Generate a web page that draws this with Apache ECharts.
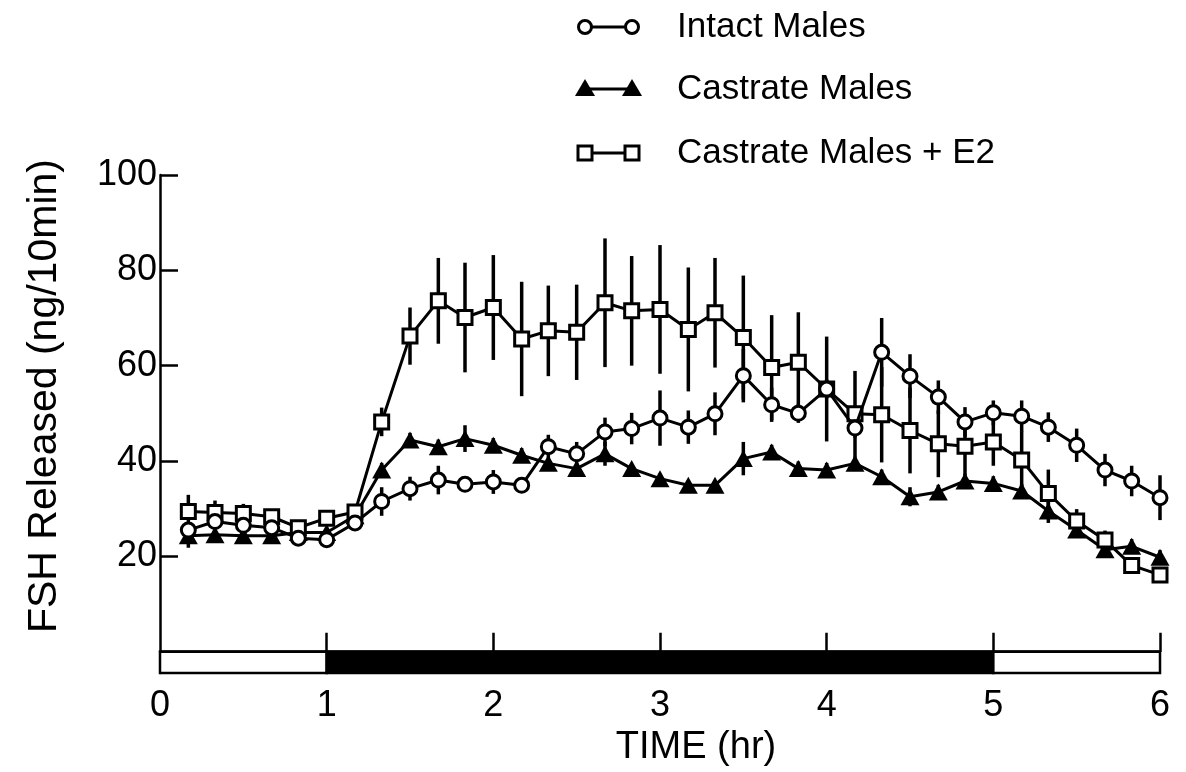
<!DOCTYPE html>
<html>
<head>
<meta charset="utf-8">
<script src="https://cdn.jsdelivr.net/npm/echarts@6/dist/echarts.min.js"></script>
<style>
html,body{margin:0;padding:0;background:#fff;}
#chart{width:1186px;height:772px;}
</style>
</head>
<body>
<div id="chart"></div>
<script>
// ---- data ----
const times = [0.17,0.33,0.5,0.67,0.83,1.0,1.17,1.33,1.5,1.67,1.83,2.0,2.17,2.33,2.5,2.67,2.83,3.0,3.17,3.33,3.5,3.67,3.83,4.0,4.17,4.33,4.5,4.67,4.83,5.0,5.17,5.33,5.5,5.67,5.83,6.0];
const intactMales = [25.5,27.3,26.5,26,23.8,23.5,27,31.5,34.2,36,35.1,35.6,34.9,43,41.5,46.1,46.8,49,47.1,49.9,57.9,51.8,50,55.1,46.9,62.8,57.8,53.4,48.2,50.1,49.4,47.1,43.3,38.1,35.8,32.3];
const intactErr = [1,1,1,1,1,1,1.5,3,2.5,3,1,2.5,1,2.5,2.5,3,3.3,5.8,3.5,4.5,5.6,3.6,2,2,2,7.2,4.6,3.5,3.1,2.6,3.3,3.1,3.5,3.4,3.2,4.7];
const castrateMales = [24.3,24.5,24.3,24.3,25,25,28.5,38.1,44.4,43,44.7,43.3,41.2,39.5,38.4,41.5,38.4,36.3,34.9,34.9,40.5,41.9,38.4,38.1,39.5,36.7,32.5,33.5,35.8,35.3,33.7,29.5,25.5,21.4,22.1,19.8];
const castrateErr = [2.5,1,1,1,1,1,1,1.5,1.5,1.5,2.8,1.5,1.5,1,1,2.5,1,1,1,1,3.5,1.5,1.5,1.5,1.5,1.5,2,1.5,1.5,1.5,1.5,2.5,1.5,1,1.5,1.5];
const castrateE2 = [29.4,29.2,29,28.3,26,28,29.3,48.2,66.2,73.6,70.1,72.2,65.6,67.3,67,73.2,71.5,71.8,67.6,71.1,65.9,59.6,60.7,55.1,49.9,49.7,46.4,43.6,43.1,44,40.2,33.2,27.4,23.4,18.1,16.1];
const castrateE2Err = [3.5,2.5,2,1.5,1,1,1.5,3,6,9,11.5,11,12,9.5,10,13.5,11.5,13.5,13,11.5,13,11,10.5,11,9,10,9,7,6,5,6,5,2.5,2,1,1];
const seriesNames = ['Intact Males','Castrate Males','Castrate Males + E2'];
const yTickValues = [20,40,60,80,100];
const xTickValues = [1,2,3,4,5,6];
const xLabelValues = [0,1,2,3,4,5,6];
// light/dark bar segments (hours)
const phaseStart = [0,1,5];
const phaseEnd = [1,5,6];
const phaseDark = [false,true,false];

const FONT = '"Liberation Sans", Arial, sans-serif';
const BAR_TOP = 0, BAR_BOTTOM = -4.5;

function pts(vals){ return times.map((t,i)=>[t, vals[i]]); }
function errs(vals, e){ return times.map((t,i)=>[t, vals[i], e[i]]); }

function errRender(params, api){
  const x = api.value(0), v = api.value(1), e = api.value(2);
  const p1 = api.coord([x, v - e]), p2 = api.coord([x, v + e]);
  return {type:'line', shape:{x1:p1[0], y1:p1[1], x2:p2[0], y2:p2[1]},
          style:{stroke:'#000', lineWidth:3.5}};
}
function errSeries(vals, e){
  return {type:'custom', renderItem: errRender, data: errs(vals, e),
          encode:{x:0, y:[1]}, z:1, silent:true, clip:false};
}
const lineStyle = {color:'#000', width:3};

const phaseData = phaseStart.map((s,i)=>[s, phaseEnd[i], phaseDark[i] ? 1 : 0]);

const chart = echarts.init(document.getElementById('chart'), null, {renderer:'canvas'});

// legend built as graphic (marker—marker + text)
function legendRow(y, kind, label){
  const xa = 585, xb = 632;
  const els = [{type:'line', shape:{x1:xa, y1:y, x2:xb, y2:y}, style:{stroke:'#000', lineWidth:2.8}}];
  [xa, xb].forEach(x=>{
    if(kind==='circle') els.push({type:'circle', shape:{cx:x, cy:y, r:6.5}, style:{fill:'#fff', stroke:'#000', lineWidth:3}});
    if(kind==='triangle') els.push({type:'polygon', shape:{points:[[x,y-10],[x-10,y+7],[x+10,y+7]]}, style:{fill:'#000'}});
    if(kind==='rect') els.push({type:'rect', shape:{x:x-7, y:y-7, width:14, height:14}, style:{fill:'#fff', stroke:'#000', lineWidth:3}});
  });
  els.push({type:'text', x:677, y:y, style:{text:label, font:'35px ' + FONT, fill:'#000', textVerticalAlign:'middle', verticalAlign:'middle'}});
  return els;
}

const option = {
  animation:false,
  backgroundColor:'#fff',
  grid:{left:160, right:26, top:175, bottom:97, containLabel:false},
  xAxis:{
    type:'value', min:0, max:6, interval:1,
    name:'TIME (hr)', nameLocation:'middle', nameGap:54,
    nameTextStyle:{fontFamily:FONT, fontSize:38, color:'#000', padding:[0,0,0,72]},
    axisLine:{show:true, onZero:true, lineStyle:{color:'#000', width:2.5}},
    axisTick:{show:true, inside:true, length:19, customValues:xTickValues, lineStyle:{color:'#000', width:2.5}},
    axisLabel:{customValues:xLabelValues, margin:15, fontFamily:FONT, fontSize:36, color:'#000'},
    splitLine:{show:false}
  },
  yAxis:{
    type:'value', min:BAR_BOTTOM, max:100,
    name:'FSH Released (ng/10min)', nameLocation:'middle', nameRotate:90, nameGap:95,
    nameTextStyle:{fontFamily:FONT, fontSize:41, color:'#000', padding:[0,0,0,56]},
    axisLine:{show:true, lineStyle:{color:'#000', width:2.5}},
    axisTick:{show:true, inside:true, length:18, customValues:yTickValues, lineStyle:{color:'#000', width:2.5}},
    axisLabel:{customValues:yTickValues, margin:3, fontFamily:FONT, fontSize:36, color:'#000'},
    splitLine:{show:false}
  },
  graphic:[].concat(
    legendRow(27, 'circle', seriesNames[0]),
    legendRow(89, 'triangle', seriesNames[1]),
    legendRow(153, 'rect', seriesNames[2])
  ),
  series:[
    {type:'custom', data:phaseData, encode:{x:[0,1]}, z:3, silent:true, clip:false,
     renderItem:function(params, api){
       const a = api.coord([api.value(0), BAR_TOP]);
       const b = api.coord([api.value(1), BAR_BOTTOM]);
       const dark = api.value(2) === 1;
       return {type:'rect', shape:{x:a[0], y:a[1], width:b[0]-a[0], height:b[1]-a[1]},
               style:{fill: dark ? '#000' : '#fff', stroke:'#000', lineWidth:2.5}};
     }},
    errSeries(castrateE2, castrateE2Err),
    errSeries(intactMales, intactErr),
    errSeries(castrateMales, castrateErr),
    {name:seriesNames[2], type:'line', data:pts(castrateE2), symbol:'rect', symbolSize:14,
     lineStyle:lineStyle, itemStyle:{color:'#fff', borderColor:'#000', borderWidth:3}, z:5},
    {name:seriesNames[1], type:'line', data:pts(castrateMales), symbol:'triangle', symbolSize:[19,17],
     lineStyle:lineStyle, itemStyle:{color:'#000', borderColor:'#000', borderWidth:0}, z:4},
    {name:seriesNames[0], type:'line', data:pts(intactMales), symbol:'circle', symbolSize:14,
     lineStyle:lineStyle, itemStyle:{color:'#fff', borderColor:'#000', borderWidth:3}, z:6}
  ]
};
chart.setOption(option);
</script>
</body>
</html>
